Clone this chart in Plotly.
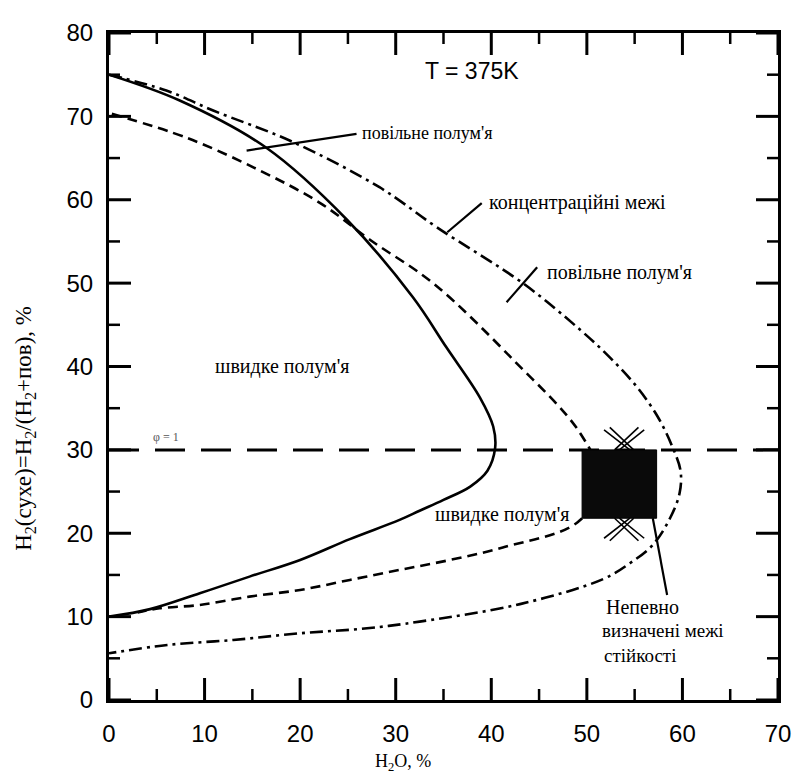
import plotly.graph_objects as go

# ---- data ----
solid_x = [0, 7.4, 16.5, 24.9, 31.8, 35.3, 38.8, 40.2, 40.4, 39.6, 37.8, 35.0, 32.5, 30.4, 25.2, 20.0, 14.7, 9.5, 4.3, 0]
solid_y = [75, 71.9, 66.2, 57.6, 48.3, 42.3, 36.3, 32.8, 30.2, 27.5, 25.6, 24.0, 22.7, 21.6, 19.3, 16.8, 14.8, 12.8, 10.9, 10.0]

dashed_x = [0.3, 8.2, 15.8, 22.1, 27.3, 33.9, 42.3, 49.3, 51.5, 49.0, 41.2, 35.7, 30.4, 25.2, 20.0, 14.7, 9.5, 5.3, 3.0]
dashed_y = [70.3, 67.4, 63.5, 59.6, 55.2, 50.0, 40.8, 32.0, 26.0, 21.3, 18.3, 16.8, 15.6, 14.4, 13.2, 12.4, 11.4, 11.0, 10.5]

dashdot_x = [0, 6.0, 10.9, 18.9, 28.3, 34.3, 43.3, 49.3, 52.4, 55.2, 57.4, 58.9, 59.8, 59.7, 58.7, 56.9, 54.5, 51.7, 43.0, 32.5, 27.0, 20.0, 13.0, 6.1, 0]
dashdot_y = [75, 73.1, 70.7, 67.1, 61.5, 56.7, 50.0, 44.4, 41.1, 37.6, 34.0, 30.5, 27.5, 24.8, 21.8, 18.6, 16.4, 14.5, 11.5, 9.4, 8.6, 8.0, 7.2, 6.6, 5.6]

phi1_x = [0, 70]
phi1_y = [30, 30]

box_x = [49.5, 57.3]
box_y = [21.8, 30.0]

pointer_slow1 = ([14.4, 25.9], [65.9, 67.9])
pointer_conc = ([35.4, 39.0], [56.1, 59.6])
pointer_slow2 = ([41.6, 44.8], [47.7, 51.9])
pointer_unc = ([56.9, 58.4], [21.8, 12.6])

cross_top_x = [[51.8, 54.5], [52.4, 54.9], [56.0, 53.4], [55.4, 52.9]]
cross_top_y = [[32.4, 30.0], [32.7, 30.0], [32.4, 30.0], [32.7, 30.0]]
cross_bot_x = [[51.8, 54.5], [52.4, 54.9], [56.0, 53.4], [55.4, 52.9]]
cross_bot_y = [[19.4, 21.8], [19.1, 21.8], [19.4, 21.8], [19.1, 21.8]]

x_major = [0, 10, 20, 30, 40, 50, 60, 70]
x_minor = [5, 15, 25, 35, 45, 55, 65]
y_major = [0, 10, 20, 30, 40, 50, 60, 70, 80]
y_minor = [5, 15, 25, 35, 45, 55, 65, 75]

X_RANGE = [0, 70]
Y_RANGE = [0, 80]

SERIF = "Liberation Serif"
SANS = "Liberation Sans"

W, H = 803, 776
ML, MR, MT, MB = 109, 25, 33, 76
x_per_px = (X_RANGE[1] - X_RANGE[0]) / (W - ML - MR)
y_per_px = (Y_RANGE[1] - Y_RANGE[0]) / (H - MT - MB)

TICK_COLOR = "black"

fig = go.Figure()

def line(x, y, dash="solid", width=2.6, shape="spline"):
    fig.add_trace(go.Scatter(x=x, y=y, mode="lines",
                             line=dict(color="black", width=width, dash=dash, shape=shape, smoothing=1.0),
                             showlegend=False, hoverinfo="skip"))

line(phi1_x, phi1_y, dash="30px,16px", width=3, shape="linear")
line(solid_x, solid_y, "solid", 2.6)
line(dashed_x, dashed_y, "10px,6px", 2.6)
line(dashdot_x, dashdot_y, "13px,5px,3px,5px", 2.6)

for px, py in [pointer_slow1, pointer_conc, pointer_slow2, pointer_unc]:
    line(px, py, "solid", 2.2, "linear")

for xs, ys in zip(cross_top_x + cross_bot_x, cross_top_y + cross_bot_y):
    line(xs, ys, "solid", 1.6, "linear")

# uncertain stability box
fig.add_trace(go.Scatter(
    x=[box_x[0], box_x[1], box_x[1], box_x[0], box_x[0]],
    y=[box_y[0], box_y[0], box_y[1], box_y[1], box_y[0]],
    mode="lines", fill="toself", fillcolor="#0a0a0a", line=dict(color="black", width=1),
    showlegend=False, hoverinfo="skip"))

# inward tick marks on all four sides, built from the tick lists
def add_ticks(xvals, yvals, length_px, width):
    lx = length_px * x_per_px
    ly = length_px * y_per_px
    st = dict(type="line", xref="x", yref="y", layer="above", line=dict(color=TICK_COLOR, width=width))
    for v in yvals:
        fig.add_shape(x0=X_RANGE[0], x1=X_RANGE[0] + lx, y0=v, y1=v, **st)
        fig.add_shape(x0=X_RANGE[1] - lx, x1=X_RANGE[1], y0=v, y1=v, **st)
    for v in xvals:
        fig.add_shape(x0=v, x1=v, y0=Y_RANGE[0], y1=Y_RANGE[0] + ly, **st)
        fig.add_shape(x0=v, x1=v, y0=Y_RANGE[1] - ly, y1=Y_RANGE[1], **st)

add_ticks(x_major, y_major, 22, 3)
add_ticks(x_minor, y_minor, 11, 2.5)

def txt(x, y, s, size=19, font=SERIF, xanchor="left", color="black"):
    fig.add_annotation(x=x, y=y, xref="x", yref="y", text=s, showarrow=False,
                       xanchor=xanchor, yanchor="middle", font=dict(family=font, size=size, color=color))

txt(38.0, 75.5, "T = 375K", size=23, font=SANS, xanchor="center")
txt(26.3, 68.0, "повільне полум'я", size=18)
txt(39.5, 59.7, "концентраційні межі", size=20)
txt(45.6, 51.3, "повільне полум'я", size=20)
txt(10.9, 40.0, "швидке полум'я", size=20)
txt(33.9, 22.3, "швидке полум'я", size=20)
txt(51.8, 11.1, "Непевно", size=20)
txt(51.4, 8.3, "визначені межі", size=19)
txt(51.6, 5.3, "стійкості", size=19)
txt(4.4, 31.6, "φ = 1", size=12, color="#555555")

fig.add_annotation(x=-0.1256, y=0.408, xref="paper", yref="paper", xanchor="center", yanchor="middle",
                   text="H<sub>2</sub>(сухе)=H<sub>2</sub>/(H<sub>2</sub>+пов), %",
                   showarrow=False, textangle=-90, font=dict(family=SERIF, size=23, color="black"))
fig.add_annotation(x=0.44, y=-0.093, xref="paper", yref="paper", xanchor="center", yanchor="middle",
                   text="H<sub>2</sub>O, %",
                   showarrow=False, font=dict(family=SERIF, size=18, color="black"))

axis_common = dict(showline=True, linecolor="black", linewidth=3, mirror=True,
                   ticks="", tickmode="linear", tick0=0, dtick=10,
                   showgrid=False, zeroline=False,
                   tickfont=dict(family=SANS, size=24, color="black"))

fig.update_xaxes(range=X_RANGE, ticklabelstandoff=10, **axis_common)
fig.update_yaxes(range=Y_RANGE, ticklabelstandoff=8, **axis_common)

fig.update_layout(width=W, height=H, margin=dict(l=ML, r=MR, t=MT, b=MB),
                  plot_bgcolor="white", paper_bgcolor="white", showlegend=False)

fig.write_html("out.html", config={"displayModeBar": False},
               post_script="document.body.style.margin='0';")
